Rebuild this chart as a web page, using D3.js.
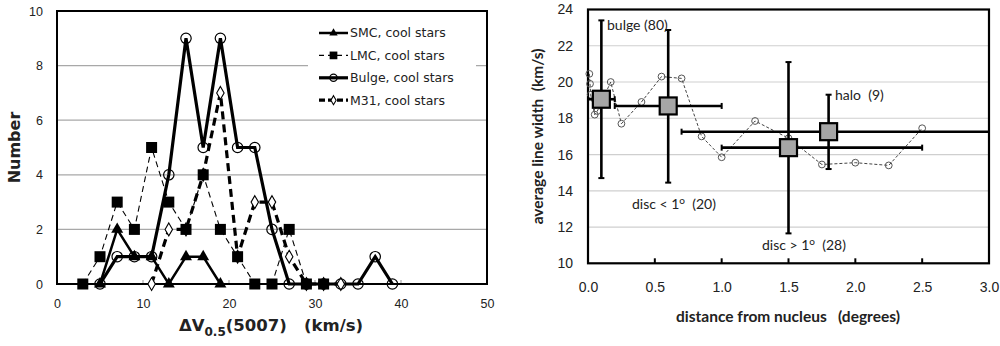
<!DOCTYPE html>
<html>
<head>
<meta charset="utf-8">
<script src="https://cdn.jsdelivr.net/npm/d3@7"></script>
<style>
  body { margin: 0; background: #fff; }
  svg { display: block; }
</style>
</head>
<body>
<svg id="chart" width="1000" height="346"></svg>
<script>
// left panel: histogram of line widths
var smcX = [5, 7, 9, 11, 13, 15, 17, 19];
var smcN = [0, 2, 1, 1, 0, 1, 1, 0];
var lmcX = [3, 5, 7, 9, 11, 13, 15, 17, 19, 21, 23, 25, 27, 29, 31];
var lmcN = [0, 1, 3, 2, 5, 3, 2, 4, 2, 1, 0, 0, 2, 0, 0];
var bulgeX = [5, 7, 9, 11, 13, 15, 17, 19, 21, 23, 25, 27, 29, 31, 33, 35, 37, 39];
var bulgeN = [0, 1, 1, 1, 4, 9, 5, 9, 5, 5, 2, 0, 0, 0, 0, 0, 1, 0];
var m31X = [11, 13, 15, 17, 19, 21, 23, 25, 27, 29, 31, 33];
var m31N = [0, 2, 2, 4, 7, 1, 3, 3, 1, 0, 0, 0];
var leftXTicks = [0, 10, 20, 30, 40, 50];
var leftYTicks = [0, 2, 4, 6, 8, 10];
var legendNames = ["SMC, cool stars", "LMC, cool stars", "Bulge, cool stars", "M31, cool stars"];

// right panel: average width vs distance
var groupX = [0.1, 0.6, 1.5, 1.8];
var groupY = [19.05, 18.68, 16.38, 17.26];
var groupYLo = [14.7, 14.45, 11.65, 15.2];
var groupYHi = [23.4, 22.87, 21.1, 19.3];
var groupXLo = [0.0, 0.2, 1.0, 0.7];
var groupXHi = [0.2, 1.0, 2.5, 3.0];
var groupNames = ["bulge (80)", "disc < 1", "disc > 1", "halo  (9)"];
var binX = [0.01, 0.015, 0.02, 0.05, 0.07, 0.17, 0.25, 0.4, 0.55, 0.7, 0.85, 1.0, 1.25, 1.5, 1.75, 2.0, 2.25, 2.5];
var binY = [20.45, 19.9, 19.3, 18.2, 18.4, 20.0, 17.7, 18.9, 20.3, 20.2, 17.0, 15.85, 17.85, 16.9, 15.45, 15.55, 15.4, 17.45];
var rightXTicks = [0, 0.5, 1, 1.5, 2, 2.5, 3];
var rightYTicks = [10, 12, 14, 16, 18, 20, 22, 24];

var svg = d3.select("#chart");
svg.append("rect").attr("width", 1000).attr("height", 346).attr("fill", "#fff");

// ---------------- left panel ----------------
var xL = d3.scaleLinear().domain([0, 50]).range([57, 487]);
var yL = d3.scaleLinear().domain([0, 10]).range([284, 11]);
var left = svg.append("g").attr("font-family", "DejaVu Sans");

left.append("g")
    .selectAll("line")
    .data(leftYTicks.slice(1, -1))
    .enter().append("line")
    .attr("x1", xL(0)).attr("x2", xL(50))
    .attr("y1", function (d) { return yL(d); })
    .attr("y2", function (d) { return yL(d); })
    .attr("stroke", "#a8a8a8").attr("stroke-width", 1.3);

left.append("g")
    .attr("transform", "translate(" + xL(0) + ",0)")
    .call(d3.axisLeft(yL).tickValues(leftYTicks).tickSize(0).tickPadding(14))
    .call(function (g) { g.select(".domain").remove(); })
    .selectAll("text").attr("font-size", 12.5).attr("fill", "#222");

left.append("g")
    .attr("transform", "translate(0," + yL(0) + ")")
    .call(d3.axisBottom(xL).tickValues(leftXTicks).tickSize(0).tickPadding(15))
    .call(function (g) { g.select(".domain").remove(); })
    .selectAll("text").attr("font-size", 12.5).attr("fill", "#222");

// small tick marks on the bottom axis
left.append("g")
    .selectAll("line")
    .data(leftXTicks.slice(1, -1))
    .enter().append("line")
    .attr("x1", function (d) { return xL(d); })
    .attr("x2", function (d) { return xL(d); })
    .attr("y1", yL(0)).attr("y2", yL(0) - 4)
    .attr("stroke", "#999").attr("stroke-width", 1);

left.append("rect")
    .attr("x", xL(0)).attr("y", yL(10))
    .attr("width", xL(50) - xL(0)).attr("height", yL(0) - yL(10))
    .attr("fill", "none").attr("stroke", "#000").attr("stroke-width", 2);

var series = [
    { x: smcX, n: smcN, width: 2.5, dash: null, marker: "triangle" },
    { x: lmcX, n: lmcN, width: 1.1, dash: "6,4", marker: "square" },
    { x: bulgeX, n: bulgeN, width: 3.2, dash: null, marker: "circle" },
    { x: m31X, n: m31N, width: 3.2, dash: "8,5", marker: "diamond" }
];

function drawMarker(g, type, cx, cy, scale) {
    if (type === "circle") {
        g.append("circle").attr("cx", cx).attr("cy", cy).attr("r", 5.2 * scale)
            .attr("fill", "none").attr("stroke", "#000").attr("stroke-width", 1.2);
    } else if (type === "square") {
        var s = 11 * scale;
        g.append("rect").attr("x", cx - s / 2).attr("y", cy - s / 2).attr("width", s).attr("height", s)
            .attr("fill", "#000");
    } else if (type === "triangle") {
        g.append("path").attr("transform", "translate(" + cx + "," + cy + ")")
            .attr("d", d3.symbol().type(d3.symbolTriangle).size(62 * scale * scale)())
            .attr("fill", "#000");
    } else {
        g.append("path").attr("transform", "translate(" + cx + "," + cy + ")")
            .attr("d", d3.symbol().type(d3.symbolDiamond).size(48 * scale * scale)())
            .attr("fill", "#fff").attr("stroke", "#000").attr("stroke-width", 1.1);
    }
}

series.forEach(function (s) {
    var pts = s.x.map(function (v, i) { return [xL(v), yL(s.n[i])]; });
    left.append("path")
        .attr("d", d3.line()(pts))
        .attr("fill", "none").attr("stroke", "#000")
        .attr("stroke-width", s.width)
        .attr("stroke-dasharray", s.dash);
});
// markers after the lines, filled squares on top
[3, 0, 2, 1].forEach(function (k) {
    var s = series[k];
    var mg = left.append("g");
    s.x.forEach(function (v, i) { drawMarker(mg, s.marker, xL(v), yL(s.n[i]), 1); });
});

// legend
var legend = left.append("g");
legend.append("rect").attr("x", 308).attr("y", 21).attr("width", 168).attr("height", 92).attr("fill", "#fff");
series.forEach(function (s, i) {
    var ly = 33 + i * 22.4;
    legend.append("line")
        .attr("x1", 319).attr("x2", 348).attr("y1", ly).attr("y2", ly)
        .attr("stroke", "#000").attr("stroke-width", s.width)
        .attr("stroke-dasharray", s.dash ? (i === 1 ? "5,4" : "6,3") : null);
    drawMarker(legend, s.marker, 333.5, ly, 0.7);
    legend.append("text").attr("x", 350).attr("y", ly).attr("dy", "0.35em")
        .attr("font-size", 12.5).attr("fill", "#222").text(legendNames[i]);
});

left.append("text")
    .attr("transform", "translate(20," + (yL(5)) + ") rotate(-90)")
    .attr("text-anchor", "middle")
    .attr("font-size", 16).attr("font-weight", "bold").attr("fill", "#222")
    .text("Number");

var xlab = left.append("text")
    .attr("x", 271).attr("y", 331)
    .attr("text-anchor", "middle")
    .attr("font-size", 16.5).attr("font-weight", "bold").attr("fill", "#222")
    .style("white-space", "pre");
xlab.append("tspan").text("\u0394V");
xlab.append("tspan").attr("font-size", 12).attr("dy", 5).text("0.5");
xlab.append("tspan").attr("dy", -5).text("(5007)   (km/s)");

// ---------------- right panel ----------------
var xR = d3.scaleLinear().domain([0, 3]).range([588, 989]);
var yR = d3.scaleLinear().domain([10, 24]).range([263.3, 9.5]);
var right = svg.append("g").attr("font-family", "Lato");

right.append("g")
    .selectAll("line")
    .data(rightYTicks.slice(1, -1))
    .enter().append("line")
    .attr("x1", xR(0)).attr("x2", xR(3))
    .attr("y1", function (d) { return yR(d); })
    .attr("y2", function (d) { return yR(d); })
    .attr("stroke", "#cfcfcf").attr("stroke-width", 1.2);

right.append("g")
    .attr("transform", "translate(" + xR(0) + ",0)")
    .call(d3.axisLeft(yR).tickValues(rightYTicks).tickSize(0).tickPadding(15))
    .call(function (g) { g.select(".domain").remove(); })
    .selectAll("text").attr("font-size", 14).attr("fill", "#222");

right.append("g")
    .attr("transform", "translate(0," + yR(10) + ")")
    .call(d3.axisBottom(xR).tickValues(rightXTicks).tickFormat(d3.format(".1f")).tickSize(0).tickPadding(19))
    .call(function (g) { g.select(".domain").remove(); })
    .selectAll("text").attr("font-size", 14).attr("fill", "#222");

right.append("g")
    .selectAll("line")
    .data(rightXTicks.slice(1, -1))
    .enter().append("line")
    .attr("x1", function (d) { return xR(d); })
    .attr("x2", function (d) { return xR(d); })
    .attr("y1", yR(10)).attr("y2", yR(10) - 5)
    .attr("stroke", "#000").attr("stroke-width", 2);

right.append("rect")
    .attr("x", xR(0)).attr("y", yR(24))
    .attr("width", xR(3) - xR(0)).attr("height", yR(10) - yR(24))
    .attr("fill", "none").attr("stroke", "#000").attr("stroke-width", 2.2);

// binned means, thin dashed line with small open circles
var binPts = binX.map(function (v, i) { return [xR(v), yR(binY[i])]; });
right.append("path")
    .attr("d", d3.line()(binPts))
    .attr("fill", "none").attr("stroke", "#444")
    .attr("stroke-width", 1).attr("stroke-dasharray", "3,2");
right.append("g")
    .selectAll("circle")
    .data(binPts)
    .enter().append("circle")
    .attr("cx", function (d) { return d[0]; })
    .attr("cy", function (d) { return d[1]; })
    .attr("r", 3.4)
    .attr("fill", "none").attr("stroke", "#555").attr("stroke-width", 1);

// error bars
var eb = right.append("g").attr("stroke", "#000");
groupX.forEach(function (gx, i) {
    eb.append("line")
        .attr("x1", xR(gx)).attr("x2", xR(gx))
        .attr("y1", yR(groupYLo[i])).attr("y2", yR(groupYHi[i]))
        .attr("stroke-width", 2.6);
    [groupYLo[i], groupYHi[i]].forEach(function (v) {
        eb.append("line")
            .attr("x1", xR(gx) - 3).attr("x2", xR(gx) + 3)
            .attr("y1", yR(v)).attr("y2", yR(v))
            .attr("stroke-width", 2);
    });
    eb.append("line")
        .attr("x1", xR(groupXLo[i])).attr("x2", xR(groupXHi[i]))
        .attr("y1", yR(groupY[i])).attr("y2", yR(groupY[i]))
        .attr("stroke-width", 2.6);
    [groupXLo[i], groupXHi[i]].forEach(function (v) {
        if (v >= 3) return;
        eb.append("line")
            .attr("x1", xR(v)).attr("x2", xR(v))
            .attr("y1", yR(groupY[i]) - 3).attr("y2", yR(groupY[i]) + 3)
            .attr("stroke-width", 2);
    });
});

right.append("g")
    .selectAll("rect")
    .data(groupX)
    .enter().append("rect")
    .attr("x", function (d) { return xR(d) - 8.5; })
    .attr("y", function (d, i) { return yR(groupY[i]) - 8.5; })
    .attr("width", 17).attr("height", 17)
    .attr("fill", "#a6a6a6").attr("stroke", "#000").attr("stroke-width", 2.2);

// annotations
var notes = [
    { x: 607, y: 25, text: groupNames[0], sup: null },
    { x: 632, y: 204, text: groupNames[1], sup: "  (20)" },
    { x: 762, y: 245, text: groupNames[2], sup: "  (28)" },
    { x: 835, y: 95, text: groupNames[3], sup: null }
];
notes.forEach(function (n) {
    var t = right.append("text")
        .attr("x", n.x).attr("y", n.y).attr("dy", "0.35em")
        .attr("font-size", 14).attr("fill", "#222")
        .style("white-space", "pre");
    t.append("tspan").text(n.text);
    if (n.sup) {
        t.append("tspan").attr("font-size", 10).attr("dy", -5).text("o");
        t.append("tspan").attr("dy", 5).text(n.sup);
    }
});

right.append("text")
    .attr("transform", "translate(543," + yR(17) + ") rotate(-90)")
    .attr("text-anchor", "middle")
    .attr("font-size", 15.5).attr("font-weight", "bold").attr("fill", "#222")
    .style("white-space", "pre")
    .text("average line width  (km/s)");

right.append("text")
    .attr("x", 788).attr("y", 322)
    .attr("text-anchor", "middle")
    .attr("font-size", 15.5).attr("font-weight", "bold").attr("fill", "#222")
    .style("white-space", "pre")
    .text("distance from nucleus   (degrees)");
</script>
</body>
</html>
